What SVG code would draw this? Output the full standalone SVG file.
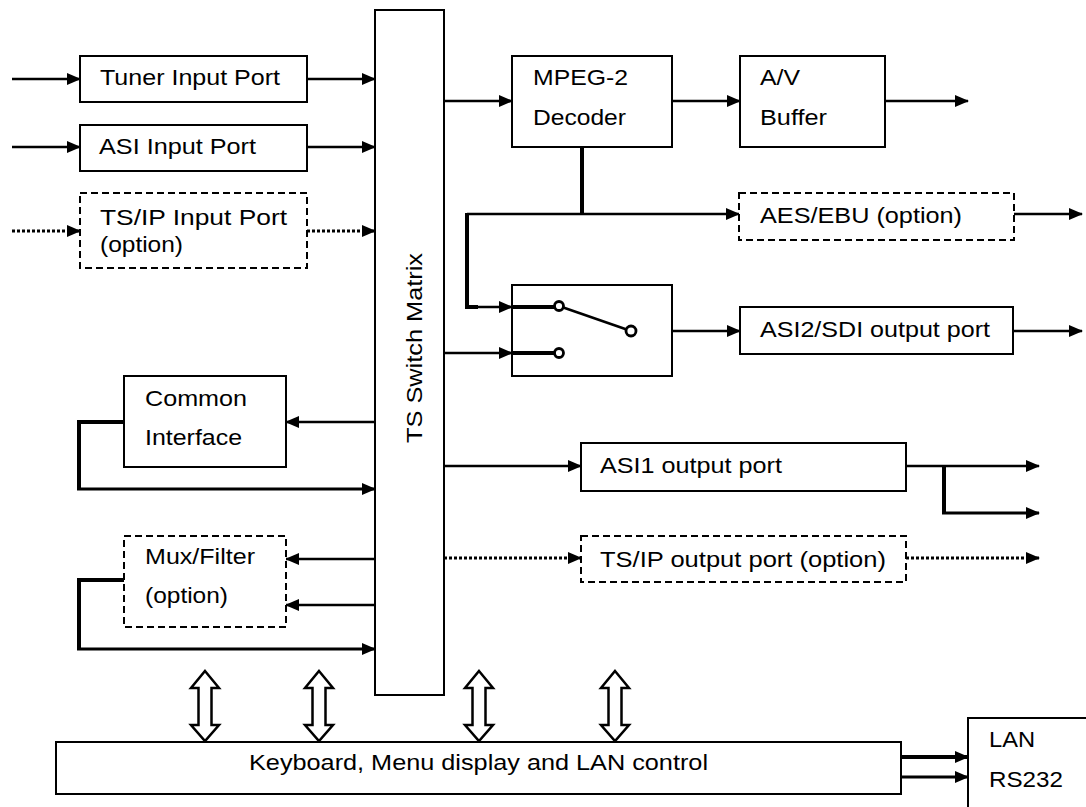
<svg xmlns="http://www.w3.org/2000/svg" width="1086" height="807" viewBox="0 0 1086 807">
<style>
.box{fill:#fff;stroke:#000;stroke-width:2}
.dbox{fill:#fff;stroke:#000;stroke-width:2;stroke-dasharray:7,4}
.ln{fill:none;stroke:#000;stroke-width:2.5}
.thk{fill:none;stroke:#000;stroke-width:4}
.dot{fill:none;stroke:#000;stroke-width:3;stroke-dasharray:3,2}
.t{font-family:"Liberation Sans",Arial,sans-serif;font-size:22px;fill:#000}
.dbl{fill:#fff;stroke:#000;stroke-width:2.5;stroke-linejoin:miter}
.pin{fill:#fff;stroke:#000;stroke-width:2.8}
</style>
<defs>
<marker id="ah" markerUnits="userSpaceOnUse" markerWidth="14" markerHeight="12" refX="13" refY="6" orient="auto">
<path d="M0,0 L14,6 L0,12 z" fill="#000"/>
</marker>
</defs>
<rect width="1086" height="807" fill="#fff"/>

<g id="connectors">
<line class="ln" x1="12" y1="79" x2="80" y2="79" marker-end="url(#ah)"/>
<line class="ln" x1="307" y1="79" x2="375" y2="79" marker-end="url(#ah)"/>
<line class="ln" x1="12" y1="147" x2="80" y2="147" marker-end="url(#ah)"/>
<line class="ln" x1="307" y1="147" x2="375" y2="147" marker-end="url(#ah)"/>
<line class="dot" x1="12" y1="231" x2="80" y2="231" marker-end="url(#ah)"/>
<line class="dot" x1="307" y1="231" x2="375" y2="231" marker-end="url(#ah)"/>
<line class="ln" x1="444" y1="101" x2="512" y2="101" marker-end="url(#ah)"/>
<line class="ln" x1="672" y1="101" x2="740" y2="101" marker-end="url(#ah)"/>
<line class="ln" x1="885" y1="101" x2="968" y2="101" marker-end="url(#ah)"/>
<line class="thk" x1="582" y1="147" x2="582" y2="214"/>
<line class="ln" x1="467" y1="214" x2="739" y2="214" marker-end="url(#ah)"/>
<polyline class="thk" points="467,213 467,307 478,307"/>
<line class="ln" x1="476" y1="307" x2="512" y2="307" marker-end="url(#ah)"/>
<line class="ln" x1="1014" y1="214" x2="1082" y2="214" marker-end="url(#ah)"/>
<line class="ln" x1="444" y1="353" x2="512" y2="353" marker-end="url(#ah)"/>
<line class="ln" x1="635" y1="331" x2="740" y2="331" marker-end="url(#ah)"/>
<line class="ln" x1="1013" y1="331" x2="1082" y2="331" marker-end="url(#ah)"/>
<line class="ln" x1="375" y1="422" x2="286" y2="422" marker-end="url(#ah)"/>
<polyline class="thk" points="124,422 79,422 79,489"/>
<line class="ln" x1="77" y1="489" x2="375" y2="489" marker-end="url(#ah)" style="stroke-width:3"/>
<line class="ln" x1="375" y1="559" x2="286" y2="559" marker-end="url(#ah)"/>
<line class="ln" x1="375" y1="605" x2="286" y2="605" marker-end="url(#ah)"/>
<polyline class="thk" points="124,580 79,580 79,649"/>
<line class="ln" x1="77" y1="649" x2="375" y2="649" marker-end="url(#ah)" style="stroke-width:3"/>
<line class="ln" x1="444" y1="466" x2="581" y2="466" marker-end="url(#ah)"/>
<line class="ln" x1="906" y1="466" x2="1039" y2="466" marker-end="url(#ah)"/>
<polyline class="thk" points="944,466 944,513"/>
<line class="ln" x1="942" y1="513" x2="1039" y2="513" marker-end="url(#ah)" style="stroke-width:3"/>
<line class="dot" x1="444" y1="558" x2="581" y2="558" marker-end="url(#ah)"/>
<line class="dot" x1="906" y1="558" x2="1039" y2="558" marker-end="url(#ah)"/>
<line class="thk" x1="901" y1="757" x2="968" y2="757" marker-end="url(#ah)"/>
<line class="ln" x1="901" y1="777" x2="968" y2="777" marker-end="url(#ah)" style="stroke-width:3"/>
<polygon class="dbl" points="205,671 219,688 211.5,688 211.5,725 219,725 205,741 191,725 198.5,725 198.5,688 191,688"/>
<polygon class="dbl" points="319,671 333,688 325.5,688 325.5,725 333,725 319,741 305,725 312.5,725 312.5,688 305,688"/>
<polygon class="dbl" points="479,671 493,688 485.5,688 485.5,725 493,725 479,741 465,725 472.5,725 472.5,688 465,688"/>
<polygon class="dbl" points="615,671 629,688 621.5,688 621.5,725 629,725 615,741 601,725 608.5,725 608.5,688 601,688"/>
</g>

<g id="tuner-input">
<rect class="box" x="80" y="56" width="227" height="46"/>
<text class="t" x="100" y="85" textLength="180" lengthAdjust="spacingAndGlyphs">Tuner Input Port</text>
</g>
<g id="asi-input">
<rect class="box" x="80" y="125" width="227" height="46"/>
<text class="t" x="99" y="154" textLength="157" lengthAdjust="spacingAndGlyphs">ASI Input Port</text>
</g>
<g id="tsip-input">
<rect class="dbox" x="80" y="193" width="227" height="75"/>
<text class="t" x="100" y="225" textLength="187" lengthAdjust="spacingAndGlyphs">TS/IP  Input  Port</text>
<text class="t" x="100" y="252" textLength="83" lengthAdjust="spacingAndGlyphs">(option)</text>
</g>
<g id="switch-matrix">
<rect class="box" x="375" y="10" width="69" height="685"/>
<text class="t" transform="translate(422,348) rotate(-90)" text-anchor="middle" textLength="190" lengthAdjust="spacingAndGlyphs">TS Switch Matrix</text>
</g>
<g id="mpeg2-decoder">
<rect class="box" x="512" y="56" width="160" height="91"/>
<text class="t" x="533" y="85" textLength="95" lengthAdjust="spacingAndGlyphs">MPEG-2</text>
<text class="t" x="533" y="125" textLength="93" lengthAdjust="spacingAndGlyphs">Decoder</text>
</g>
<g id="av-buffer">
<rect class="box" x="740" y="56" width="145" height="91"/>
<text class="t" x="760" y="85" textLength="40" lengthAdjust="spacingAndGlyphs">A/V</text>
<text class="t" x="760" y="125" textLength="67" lengthAdjust="spacingAndGlyphs">Buffer</text>
</g>
<g id="aes-ebu">
<rect class="dbox" x="739" y="193" width="275" height="47"/>
<text class="t" x="760" y="223" textLength="202" lengthAdjust="spacingAndGlyphs">AES/EBU (option)</text>
</g>
<g id="output-switch">
<rect class="box" x="512" y="285" width="160" height="91"/>
<line class="thk" x1="512" y1="307" x2="555" y2="307"/>
<line class="thk" x1="512" y1="353" x2="555" y2="353"/>
<line class="ln" x1="559" y1="306" x2="631" y2="331"/>
<circle class="pin" cx="559" cy="306" r="4.5"/>
<circle class="pin" cx="559" cy="353" r="4.5"/>
<circle class="pin" cx="631" cy="331" r="5"/>
</g>
<g id="asi2-sdi-output">
<rect class="box" x="740" y="307" width="273" height="47"/>
<text class="t" x="760" y="337" textLength="230" lengthAdjust="spacingAndGlyphs">ASI2/SDI output port</text>
</g>
<g id="common-interface">
<rect class="box" x="124" y="376" width="162" height="91"/>
<text class="t" x="145" y="406" textLength="102" lengthAdjust="spacingAndGlyphs">Common</text>
<text class="t" x="145" y="445" textLength="97" lengthAdjust="spacingAndGlyphs">Interface</text>
</g>
<g id="mux-filter">
<rect class="dbox" x="124" y="536" width="162" height="91"/>
<text class="t" x="145" y="564" textLength="110" lengthAdjust="spacingAndGlyphs">Mux/Filter</text>
<text class="t" x="145" y="603" textLength="83" lengthAdjust="spacingAndGlyphs">(option)</text>
</g>
<g id="asi1-output">
<rect class="box" x="581" y="443" width="325" height="48"/>
<text class="t" x="600" y="473" textLength="182" lengthAdjust="spacingAndGlyphs">ASI1 output port</text>
</g>
<g id="tsip-output">
<rect class="dbox" x="581" y="536" width="325" height="46"/>
<text class="t" x="600" y="567" textLength="286" lengthAdjust="spacingAndGlyphs">TS/IP output port (option)</text>
</g>
<g id="keyboard-control">
<rect class="box" x="56" y="742" width="845" height="52"/>
<text class="t" x="249" y="770" textLength="459" lengthAdjust="spacingAndGlyphs">Keyboard, Menu display and LAN control</text>
</g>
<g id="lan-rs232">
<rect class="box" x="968" y="718" width="140" height="110"/>
<text class="t" x="989" y="747" textLength="46" lengthAdjust="spacingAndGlyphs">LAN</text>
<text class="t" x="989" y="787" textLength="74" lengthAdjust="spacingAndGlyphs">RS232</text>
</g>
</svg>
